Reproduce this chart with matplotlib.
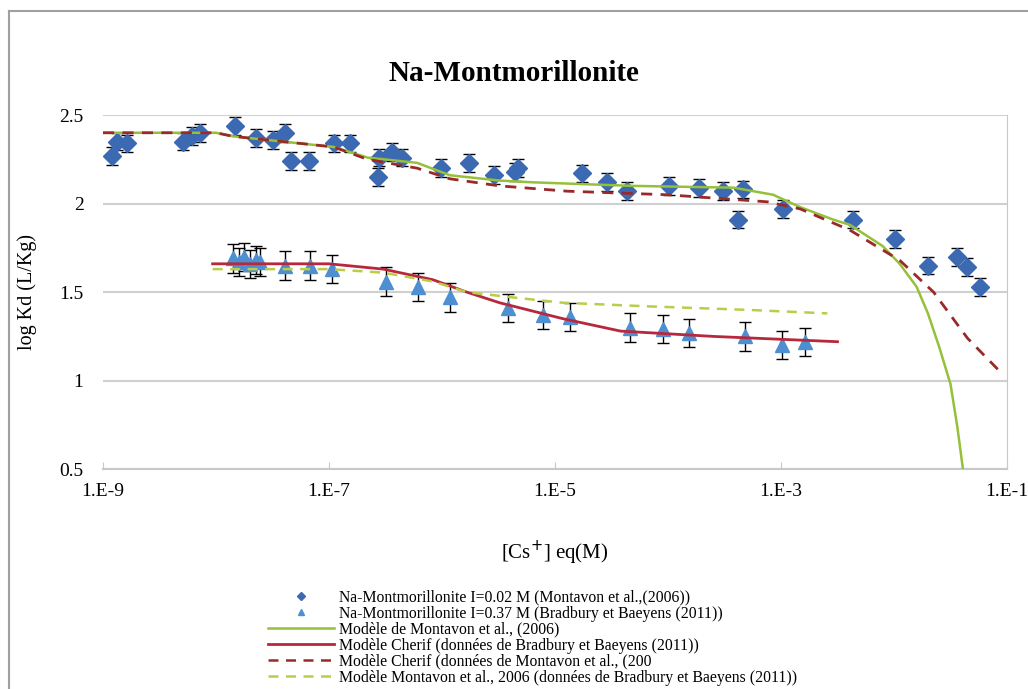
import numpy as np
import matplotlib.pyplot as plt
from matplotlib.lines import Line2D
from matplotlib.ticker import FuncFormatter, FixedLocator

plt.rcParams['font.family'] = ['Liberation Serif', 'DejaVu Serif']

# Na-Montmorillonite I=0.02 M (Montavon et al., 2006): log10 [Cs+] eq, log Kd, error
mont_logc = [-8.92, -8.88, -8.79, -8.29, -8.21, -8.14, -7.83, -7.65, -7.50, -7.39,
             -7.34, -7.18, -6.96, -6.81, -6.57, -6.56, -6.44, -6.35, -6.01, -5.76,
             -5.54, -5.35, -5.33, -4.76, -4.54, -4.36, -3.99, -3.73, -3.51, -3.34,
             -3.38, -2.98, -2.36, -1.99, -1.70, -1.44, -1.35, -1.24]
mont_logkd = [2.27, 2.35, 2.34, 2.35, 2.38, 2.40, 2.44, 2.37, 2.36, 2.40,
              2.24, 2.24, 2.34, 2.34, 2.15, 2.26, 2.29, 2.26, 2.20, 2.23,
              2.16, 2.18, 2.20, 2.17, 2.12, 2.07, 2.10, 2.09, 2.07, 2.08,
              1.91, 1.97, 1.91, 1.80, 1.65, 1.70, 1.64, 1.53]
mont_err = 0.05

# Na-Montmorillonite I=0.37 M (Bradbury et Baeyens, 2011)
brad_logc = [-7.85, -7.80, -7.75, -7.70, -7.65, -7.61, -7.39, -7.17, -6.97, -6.50,
             -6.21, -5.93, -5.42, -5.11, -4.87, -4.34, -4.04, -3.81, -3.32, -2.99, -2.79]
brad_logkd = [1.69, 1.67, 1.70, 1.66, 1.68, 1.67, 1.65, 1.65, 1.63, 1.56,
              1.53, 1.47, 1.41, 1.37, 1.36, 1.30, 1.29, 1.27, 1.25, 1.20, 1.22]
brad_err = 0.08

# model curves
m1_logc = [-9.0, -8.0, -7.85, -6.96, -6.66, -6.22, -5.93, -5.49, -5.19, -4.31, -3.42,
           -3.07, -2.83, -2.54, -2.39, -2.10, -1.95, -1.80, -1.70, -1.60, -1.50, -1.44, -1.39]
m1_logkd = [2.40, 2.40, 2.38, 2.32, 2.26, 2.23, 2.16, 2.13, 2.12, 2.10, 2.09,
            2.05, 1.98, 1.91, 1.88, 1.76, 1.66, 1.53, 1.38, 1.19, 0.98, 0.74, 0.50]

m2_logc = [-8.03, -7.0, -6.52, -6.08, -5.78, -5.49, -4.93, -4.42, -3.60, -2.50]
m2_logkd = [1.66, 1.66, 1.63, 1.57, 1.50, 1.44, 1.35, 1.28, 1.25, 1.22]

m3_logc = [-9.0, -8.0, -7.85, -6.96, -6.66, -6.22, -5.93, -5.49, -4.89, -4.01, -3.12,
           -2.83, -2.39, -1.95, -1.65, -1.35, -1.06]
m3_logkd = [2.40, 2.40, 2.38, 2.32, 2.25, 2.20, 2.14, 2.10, 2.07, 2.05, 2.01,
            1.97, 1.85, 1.68, 1.50, 1.24, 1.05]

m4_logc = [-8.03, -7.0, -6.52, -6.08, -5.78, -5.37, -4.93, -4.19, -3.30, -2.59]
m4_logkd = [1.63, 1.63, 1.61, 1.56, 1.50, 1.47, 1.44, 1.42, 1.40, 1.38]

xticks = [1e-9, 1e-7, 1e-5, 1e-3, 1e-1]

labels = ['Na-Montmorillonite I=0.02 M (Montavon et al.,(2006))',
          'Na-Montmorillonite I=0.37 M (Bradbury et Baeyens (2011))',
          'Modèle de Montavon et al., (2006)',
          'Modèle Cherif (données de Bradbury et Baeyens (2011))',
          'Modèle Cherif (données de Montavon et al., (200',
          'Modèle Montavon et al., 2006 (données de Bradbury et Baeyens (2011))']

c_green = '#96c03a'
c_red = '#b8283c'
c_darkred = '#9a2a2a'
c_lgreen = '#bccb4a'
c_blue = '#3b69b2'
c_lblue = '#4d8fd0'

fig = plt.figure(figsize=(10.28, 6.89), dpi=100)
ax = fig.add_axes([0.1002, 0.319, 0.8794, 0.514])

p = lambda v: 10.0 ** np.array(v)

ax.plot(p(m1_logc), m1_logkd, color=c_green, lw=1.8, zorder=4)
ax.plot(p(m2_logc), m2_logkd, color=c_red, lw=2.0, zorder=4)
ax.plot(p(m3_logc), m3_logkd, color=c_darkred, lw=2.0, ls=(0, (4, 3)), zorder=4)
ax.plot(p(m4_logc), m4_logkd, color=c_lgreen, lw=1.8, ls=(0, (4, 3)), zorder=4)

ax.errorbar(p(mont_logc), mont_logkd, yerr=mont_err, fmt='D', ms=9, color=c_blue,
            ecolor='black', elinewidth=1, capsize=4, zorder=3)
ax.errorbar(p(brad_logc), brad_logkd, yerr=brad_err, fmt='^', ms=10, color=c_lblue,
            ecolor='black', elinewidth=1, capsize=4, zorder=3)

ax.set_xscale('log')
ax.set_xlim(1e-9, 1e-1)
ax.set_ylim(0.5, 2.5)
ax.xaxis.set_major_locator(FixedLocator(xticks))
ax.xaxis.set_minor_locator(FixedLocator([]))
ax.xaxis.set_major_formatter(FuncFormatter(lambda v, pos: '1.E%d' % round(np.log10(v))))
ax.set_yticks([0.5, 1, 1.5, 2, 2.5])
ax.set_yticklabels(['0.5', '1', '1.5', '2', '2.5'])
ax.yaxis.grid(True, color='#d0d0d0', lw=1.5)
ax.set_axisbelow(True)
for s in ['top', 'left']:
    ax.spines[s].set_visible(False)
ax.spines['bottom'].set_color('#c8c8c8')
ax.spines['bottom'].set_linewidth(1.5)
ax.spines['right'].set_color('#c8c8c8')
ax.tick_params(axis='y', length=0, labelsize=14, pad=14)
ax.tick_params(axis='x', direction='in', length=5, color='#c8c8c8', labelsize=14, pad=10)

ax.set_ylabel('log Kd (L/Kg)', fontsize=14.5, labelpad=16)
ax.set_xlabel('[Cs$^{+}$] eq(M)', fontsize=15, labelpad=28)
fig.text(0.5, 0.893, 'Na-Montmorillonite', ha='center', va='center',
         fontsize=21, fontweight='bold')

handles = [
    Line2D([], [], ls='none', marker='D', ms=4, color=c_blue),
    Line2D([], [], ls='none', marker='^', ms=5, color=c_lblue),
    Line2D([], [], color=c_green, lw=1.8),
    Line2D([], [], color=c_red, lw=2.0),
    Line2D([], [], color=c_darkred, lw=1.8, ls=(0, (4, 3))),
    Line2D([], [], color=c_lgreen, lw=1.8, ls=(0, (4, 3))),
]
fig.legend(handles, labels, loc='upper left', bbox_to_anchor=(0.255, 0.153),
           frameon=False, fontsize=11.3, handlelength=4.2, handletextpad=0.3,
           labelspacing=0.0, borderaxespad=0)

# outer frame
fig.add_artist(Line2D([0.009, 0.009], [0.0, 0.984], transform=fig.transFigure,
                      color='#a0a0a0', lw=1.5))
fig.add_artist(Line2D([0.009, 1.0], [0.984, 0.984], transform=fig.transFigure,
                      color='#a0a0a0', lw=1.5))

fig.savefig('out.png', dpi=100)
